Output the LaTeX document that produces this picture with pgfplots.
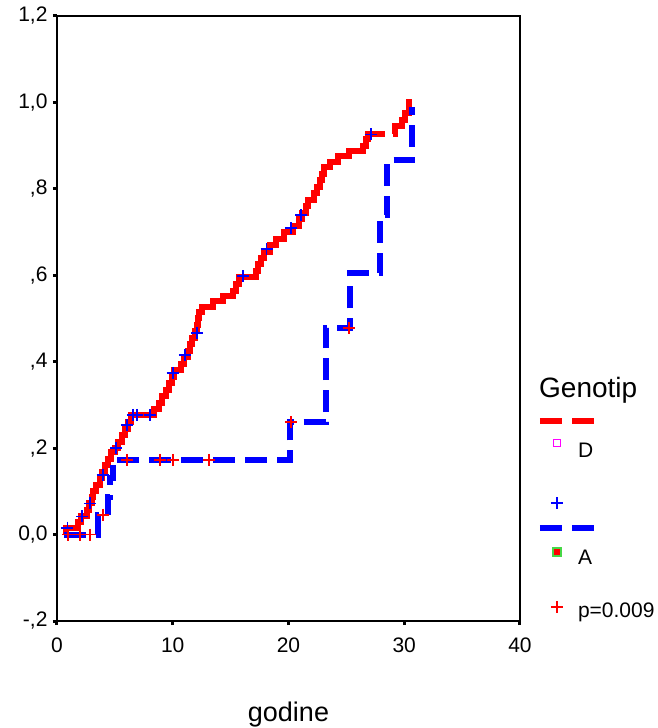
\documentclass[border=0pt]{standalone}
\usepackage{pgfplots}
\pgfplotsset{compat=1.18}
\usepackage{fontspec}
\setmainfont{Liberation Sans}
\definecolor{sred}{RGB}{255,0,0}
\definecolor{sblue}{RGB}{0,0,255}
\definecolor{spink}{RGB}{255,0,255}
\definecolor{sgreen}{RGB}{70,215,70}
\begin{document}
\begin{tikzpicture}
\begin{axis}[
  name=ax, scale only axis, width=463pt, height=605pt,
  xmin=0, xmax=40, ymin=-0.2, ymax=1.2,
  clip=false,
  axis line style={line width=2pt},
  xtick={0,10,20,30,40}, xticklabels={0,10,20,30,40},
  ytick={-0.2,0,0.2,0.4,0.6,0.8,1.0,1.2},
  yticklabels={{-,2},{0,0},{,2},{,4},{,6},{,8},{1,0},{1,2}},
  tick pos=left, tick align=outside, major tick length=4pt,
  every tick/.style={black, line width=3pt},
  tick label style={font=\fontsize{21}{25}\selectfont},
  xticklabel style={yshift=-9pt},
  yticklabel style={xshift=-2pt},
  xlabel={godine},
  xlabel style={font=\fontsize{27}{32}\selectfont, at={(axis description cs:0.5,0)}, anchor=base, yshift=-100pt},
  legend style={draw=none, fill=none, at={(axis description cs:1.0432,0.3041)}, anchor=north west,
    inner sep=0pt, outer sep=0pt, row sep=0pt, column sep=0pt,
    font=\fontsize{21}{25}\selectfont, cells={anchor=base west}, nodes={inner sep=0pt}},
]
% red curve (group D)
\addplot[const plot, sred, line width=6pt, forget plot] coordinates {
(0.6,0.0) (0.8,0.016) (1.8,0.029) (2.1,0.042) (2.6,0.056) (2.8,0.072) (3.05,0.086) (3.15,0.1)
(3.4,0.115) (3.7,0.13) (3.9,0.145) (4.15,0.16) (4.4,0.175) (4.65,0.19) (5.0,0.2) (5.3,0.215)
(5.6,0.23) (5.9,0.245) (6.1,0.26) (6.4,0.277) (8.4,0.29) (8.8,0.305) (9.1,0.32) (9.4,0.335)
(9.7,0.35) (9.9,0.365) (10.1,0.38) (10.7,0.395) (11.0,0.41) (11.3,0.425) (11.5,0.44) (11.7,0.455)
(11.9,0.47) (12.1,0.485) (12.2,0.50) (12.3,0.515) (12.5,0.527) (13.5,0.54) (14.3,0.552) (15.2,0.564)
(15.5,0.58) (15.7,0.596) (17.2,0.61) (17.4,0.625) (17.6,0.64) (17.9,0.655) (18.4,0.67) (18.9,0.685)
(19.6,0.70) (20.4,0.715) (20.9,0.73) (21.2,0.745) (21.5,0.76) (21.7,0.775) (22.2,0.79) (22.5,0.805)
(22.7,0.82) (22.9,0.835) (23.1,0.85) (23.6,0.862) (24.3,0.875) (25.2,0.888) (26.4,0.90) (26.7,0.915)
(26.9,0.928) (28.3,0.928)
};
\addplot[const plot, sred, line width=6pt, forget plot] coordinates {
(29.0,0.928) (29.2,0.945) (29.8,0.96) (30.1,0.975) (30.4,1.0) (30.7,1.0)
};
% blue curve (group A)
\addplot[const plot, sblue, line width=6pt, dash pattern=on 22pt off 10pt, forget plot] coordinates {
(0.6,0) (3.5,0.046) (4.4,0.087) (4.6,0.13) (4.8,0.173) (20.1,0.26) (23.2,0.478) (25.3,0.605)
(27.9,0.739) (28.5,0.866) (30.7,0.99) (30.7,0.99)
};
% censor marks
\addplot[only marks, mark=+, mark size=6pt, sblue, mark options={line width=1.8pt}, forget plot] coordinates {
(0.9,0.016) (2.15,0.042) (2.85,0.072) (3.95,0.138) (5.1,0.2) (6.05,0.254) (6.57,0.277) (6.91,0.277)
(8.04,0.277) (10.0,0.374) (11.05,0.416) (12.1,0.467) (16.1,0.598) (18.1,0.66) (20.2,0.709) (21.1,0.739)
(27.1,0.926)
};
\addplot[only marks, mark=+, mark size=6pt, sred, mark options={line width=1.8pt}, forget plot] coordinates {
(0.95,0) (2.0,0) (2.85,0) (3.95,0.046) (6.05,0.173) (8.9,0.173) (10.0,0.173) (13.1,0.173)
(20.2,0.26) (25.2,0.478)
};
% legend
\addlegendimage{legend image code/.code={
  \draw[overlay, sred, line width=6pt, dash pattern=on 22pt off 10pt] (0pt,36.5pt) -- (54pt,36.5pt);
  \draw[overlay, spink, line width=1.4pt, mark=square, mark size=3.6pt] plot coordinates {(17pt,14pt)};
  \path[draw=none, fill=none] (0pt,0pt) -- (38pt,0pt);
}}
\addlegendentry[text height=20pt, text depth=5pt]{D}
\addlegendimage{legend image code/.code={
  \draw[overlay, sblue, line width=1.8pt, mark=+, mark size=6pt] plot coordinates {(17pt,61pt)};
  \draw[overlay, sblue, line width=6pt, dash pattern=on 22pt off 10pt] (0pt,36pt) -- (54pt,36pt);
  \draw[overlay, sgreen, fill=sred, line width=2.2pt, mark=square*, mark size=4pt] plot coordinates {(17pt,12pt)};
  \path[draw=none, fill=none] (0pt,0pt) -- (38pt,0pt);
}}
\addlegendentry[text height=102pt, text depth=5pt]{A}
\addlegendimage{legend image code/.code={
  \draw[overlay, sred, line width=1.8pt, mark=+, mark size=6pt] plot coordinates {(17pt,10pt)};
  \path[draw=none, fill=none] (0pt,0pt) -- (38pt,0pt);
}}
\addlegendentry[text height=48pt, text depth=5pt]{p=0.009}
\node[anchor=base west, font=\fontsize{28}{33}\selectfont, inner sep=0pt] at (axis description cs:1.0410,0.3702) {Genotip};
\end{axis}
\pgfresetboundingbox
\path[use as bounding box] (-57pt,-107pt) rectangle (600pt,621pt);
\end{tikzpicture}
\end{document}
